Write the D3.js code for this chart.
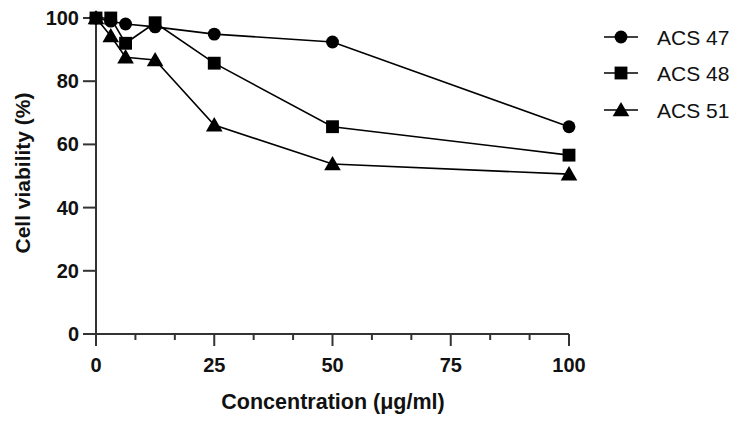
<!DOCTYPE html>
<html>
<head>
<meta charset="utf-8">
<script src="https://cdn.jsdelivr.net/npm/d3@7"></script>
<style>
  body { margin: 0; background: #fff; }
  svg { font-family: "Liberation Sans", Arial, sans-serif; }
</style>
</head>
<body>
<div id="chart"></div>
<script>
// concentrations (ug/ml) and viability (%) per compound
var concentrations = [0, 3.125, 6.25, 12.5, 25, 50, 100];
var acs47 = [100, 99, 98.1, 97.2, 94.9, 92.4, 65.6];
var acs48 = [100, 100, 92.0, 98.5, 85.7, 65.6, 56.6];
var acs51 = [100, 94.3, 87.6, 86.7, 66.1, 53.8, 50.6];
var seriesNames = ["ACS 47", "ACS 48", "ACS 51"];
var xTicks = [0, 25, 50, 75, 100];
var yTicks = [0, 20, 40, 60, 80, 100];

var width = 740, height = 426;
var svg = d3.select("#chart").append("svg")
    .attr("width", width).attr("height", height);

var x = d3.scaleLinear().domain([0, 100]).range([96, 569]);
var y = d3.scaleLinear().domain([0, 100]).range([334, 18]);
var axisColor = "#333";

// x axis with minor ticks
var minor = d3.range(0, 100.01, 25 / 3);
var xAxis = svg.append("g").attr("transform", "translate(0," + y(0) + ")");
xAxis.append("line").attr("x1", 83).attr("x2", x(100))
    .attr("stroke", axisColor).attr("stroke-width", 2);
xAxis.selectAll(".minor").data(minor).enter().append("line")
    .attr("x1", function(d) { return x(d); }).attr("x2", function(d) { return x(d); })
    .attr("y1", 0).attr("y2", function(d, i) { return i % 3 === 0 ? 12 : 6; })
    .attr("stroke", axisColor).attr("stroke-width", 2);
xAxis.selectAll("text").data(xTicks).enter().append("text")
    .attr("x", function(d) { return x(d); }).attr("y", 38)
    .attr("text-anchor", "middle").attr("font-size", 20).attr("font-weight", "bold")
    .attr("fill", "#111").text(function(d) { return d; });

// y axis
var yAxis = svg.append("g").attr("transform", "translate(" + x(0) + ",0)");
yAxis.append("line").attr("y1", y(100)).attr("y2", y(0) + 12)
    .attr("stroke", axisColor).attr("stroke-width", 2);
yAxis.selectAll(".tick").data(yTicks).enter().append("line")
    .attr("x1", -13).attr("x2", 0)
    .attr("y1", function(d) { return y(d); }).attr("y2", function(d) { return y(d); })
    .attr("stroke", axisColor).attr("stroke-width", 2);
yAxis.selectAll("text").data(yTicks).enter().append("text")
    .attr("x", -17).attr("y", function(d) { return y(d) + 7; })
    .attr("text-anchor", "end").attr("font-size", 20).attr("font-weight", "bold")
    .attr("fill", "#111").text(function(d) { return d; });

// axis titles
svg.append("text").attr("x", 333).attr("y", 409)
    .attr("text-anchor", "middle").attr("font-size", 21.5).attr("font-weight", "bold")
    .attr("fill", "#111").text("Concentration (μg/ml)");
svg.append("text").attr("transform", "translate(30,173) rotate(-90)")
    .attr("text-anchor", "middle").attr("font-size", 21).attr("font-weight", "bold")
    .attr("fill", "#111").text("Cell viability (%)");

var symbols = [d3.symbolCircle, d3.symbolSquare, d3.symbolTriangle];
var sizes = [130, 165, 120];
var allSeries = [acs47, acs48, acs51];

var line = d3.line()
    .x(function(d, i) { return x(concentrations[i]); })
    .y(function(d) { return y(d); });

// lines first, then markers on top
allSeries.forEach(function(s) {
    svg.append("path").datum(s).attr("d", line)
        .attr("fill", "none").attr("stroke", "#000").attr("stroke-width", 1.6);
});
allSeries.forEach(function(s, k) {
    svg.selectAll(".m" + k).data(s).enter().append("path")
        .attr("transform", function(d, i) {
            return "translate(" + x(concentrations[i]) + "," + (y(d) + (k === 2 ? 1.5 : 0)) + ")";
        })
        .attr("d", d3.symbol().type(symbols[k]).size(sizes[k]))
        .attr("fill", "#000");
});

// legend
var legendY = [37, 73, 110];
seriesNames.forEach(function(name, k) {
    var g = svg.append("g").attr("transform", "translate(0," + legendY[k] + ")");
    g.append("line").attr("x1", 604).attr("x2", 638)
        .attr("stroke", "#000").attr("stroke-width", 1.6);
    g.append("path").attr("transform", "translate(621," + (k === 2 ? 1.5 : 0) + ")")
        .attr("d", d3.symbol().type(symbols[k]).size(sizes[k])).attr("fill", "#000");
    g.append("text").attr("x", 657).attr("y", 8).attr("font-size", 21)
        .attr("fill", "#111").text(name);
});
</script>
</body>
</html>
